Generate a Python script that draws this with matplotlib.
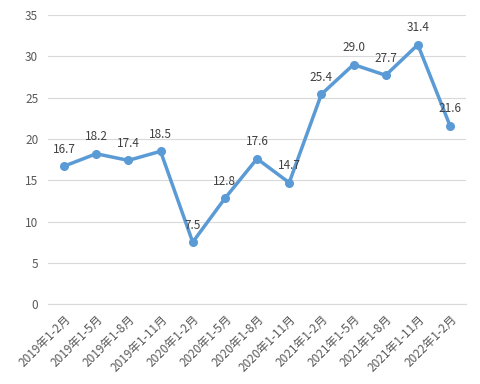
import matplotlib
matplotlib.use("Agg")
import matplotlib.pyplot as plt

plt.rcParams['font.family'] = ['Noto Sans CJK SC', 'DejaVu Sans']

categories = ["2019年1-2月", "2019年1-5月", "2019年1-8月", "2019年1-11月",
              "2020年1-2月", "2020年1-5月", "2020年1-8月", "2020年1-11月",
              "2021年1-2月", "2021年1-5月", "2021年1-8月", "2021年1-11月",
              "2022年1-2月"]
values = [16.7, 18.2, 17.4, 18.5, 7.5, 12.8, 17.6, 14.7, 25.4, 29.0, 27.7, 31.4, 21.6]
yticks = [0, 5, 10, 15, 20, 25, 30, 35]

fig = plt.figure(figsize=(4.8, 3.84), dpi=100)
ax = fig.add_axes([0.1, 0.208, 0.871, 0.753])
x = list(range(len(categories)))
ax.plot(x, values, color='#5B9BD5', linewidth=2.5, marker='o', markersize=5.5, zorder=3)
for xi, v in zip(x, values):
    ax.annotate(f"{v:.1f}", (xi, v), xytext=(0, 7.5), textcoords='offset points',
                ha='center', va='bottom', fontsize=8.5, color='#404040')
ax.set_xlim(-0.5, len(categories) - 0.5)
ax.set_ylim(0, 35)
ax.set_yticks(yticks)
ax.set_xticks(x)
ax.set_xticklabels(categories, rotation=45, ha='right', rotation_mode='anchor')
ax.grid(axis='y', color='#D9D9D9', linewidth=0.8)
ax.set_axisbelow(True)
for s in ['top', 'right', 'left']:
    ax.spines[s].set_visible(False)
ax.spines['bottom'].set_color('#D9D9D9')
ax.tick_params(axis='both', length=0, colors='#595959', labelsize=8.5)
ax.tick_params(axis='y', pad=7)
ax.tick_params(axis='x', pad=6)
fig.savefig('out.png', dpi=100)
